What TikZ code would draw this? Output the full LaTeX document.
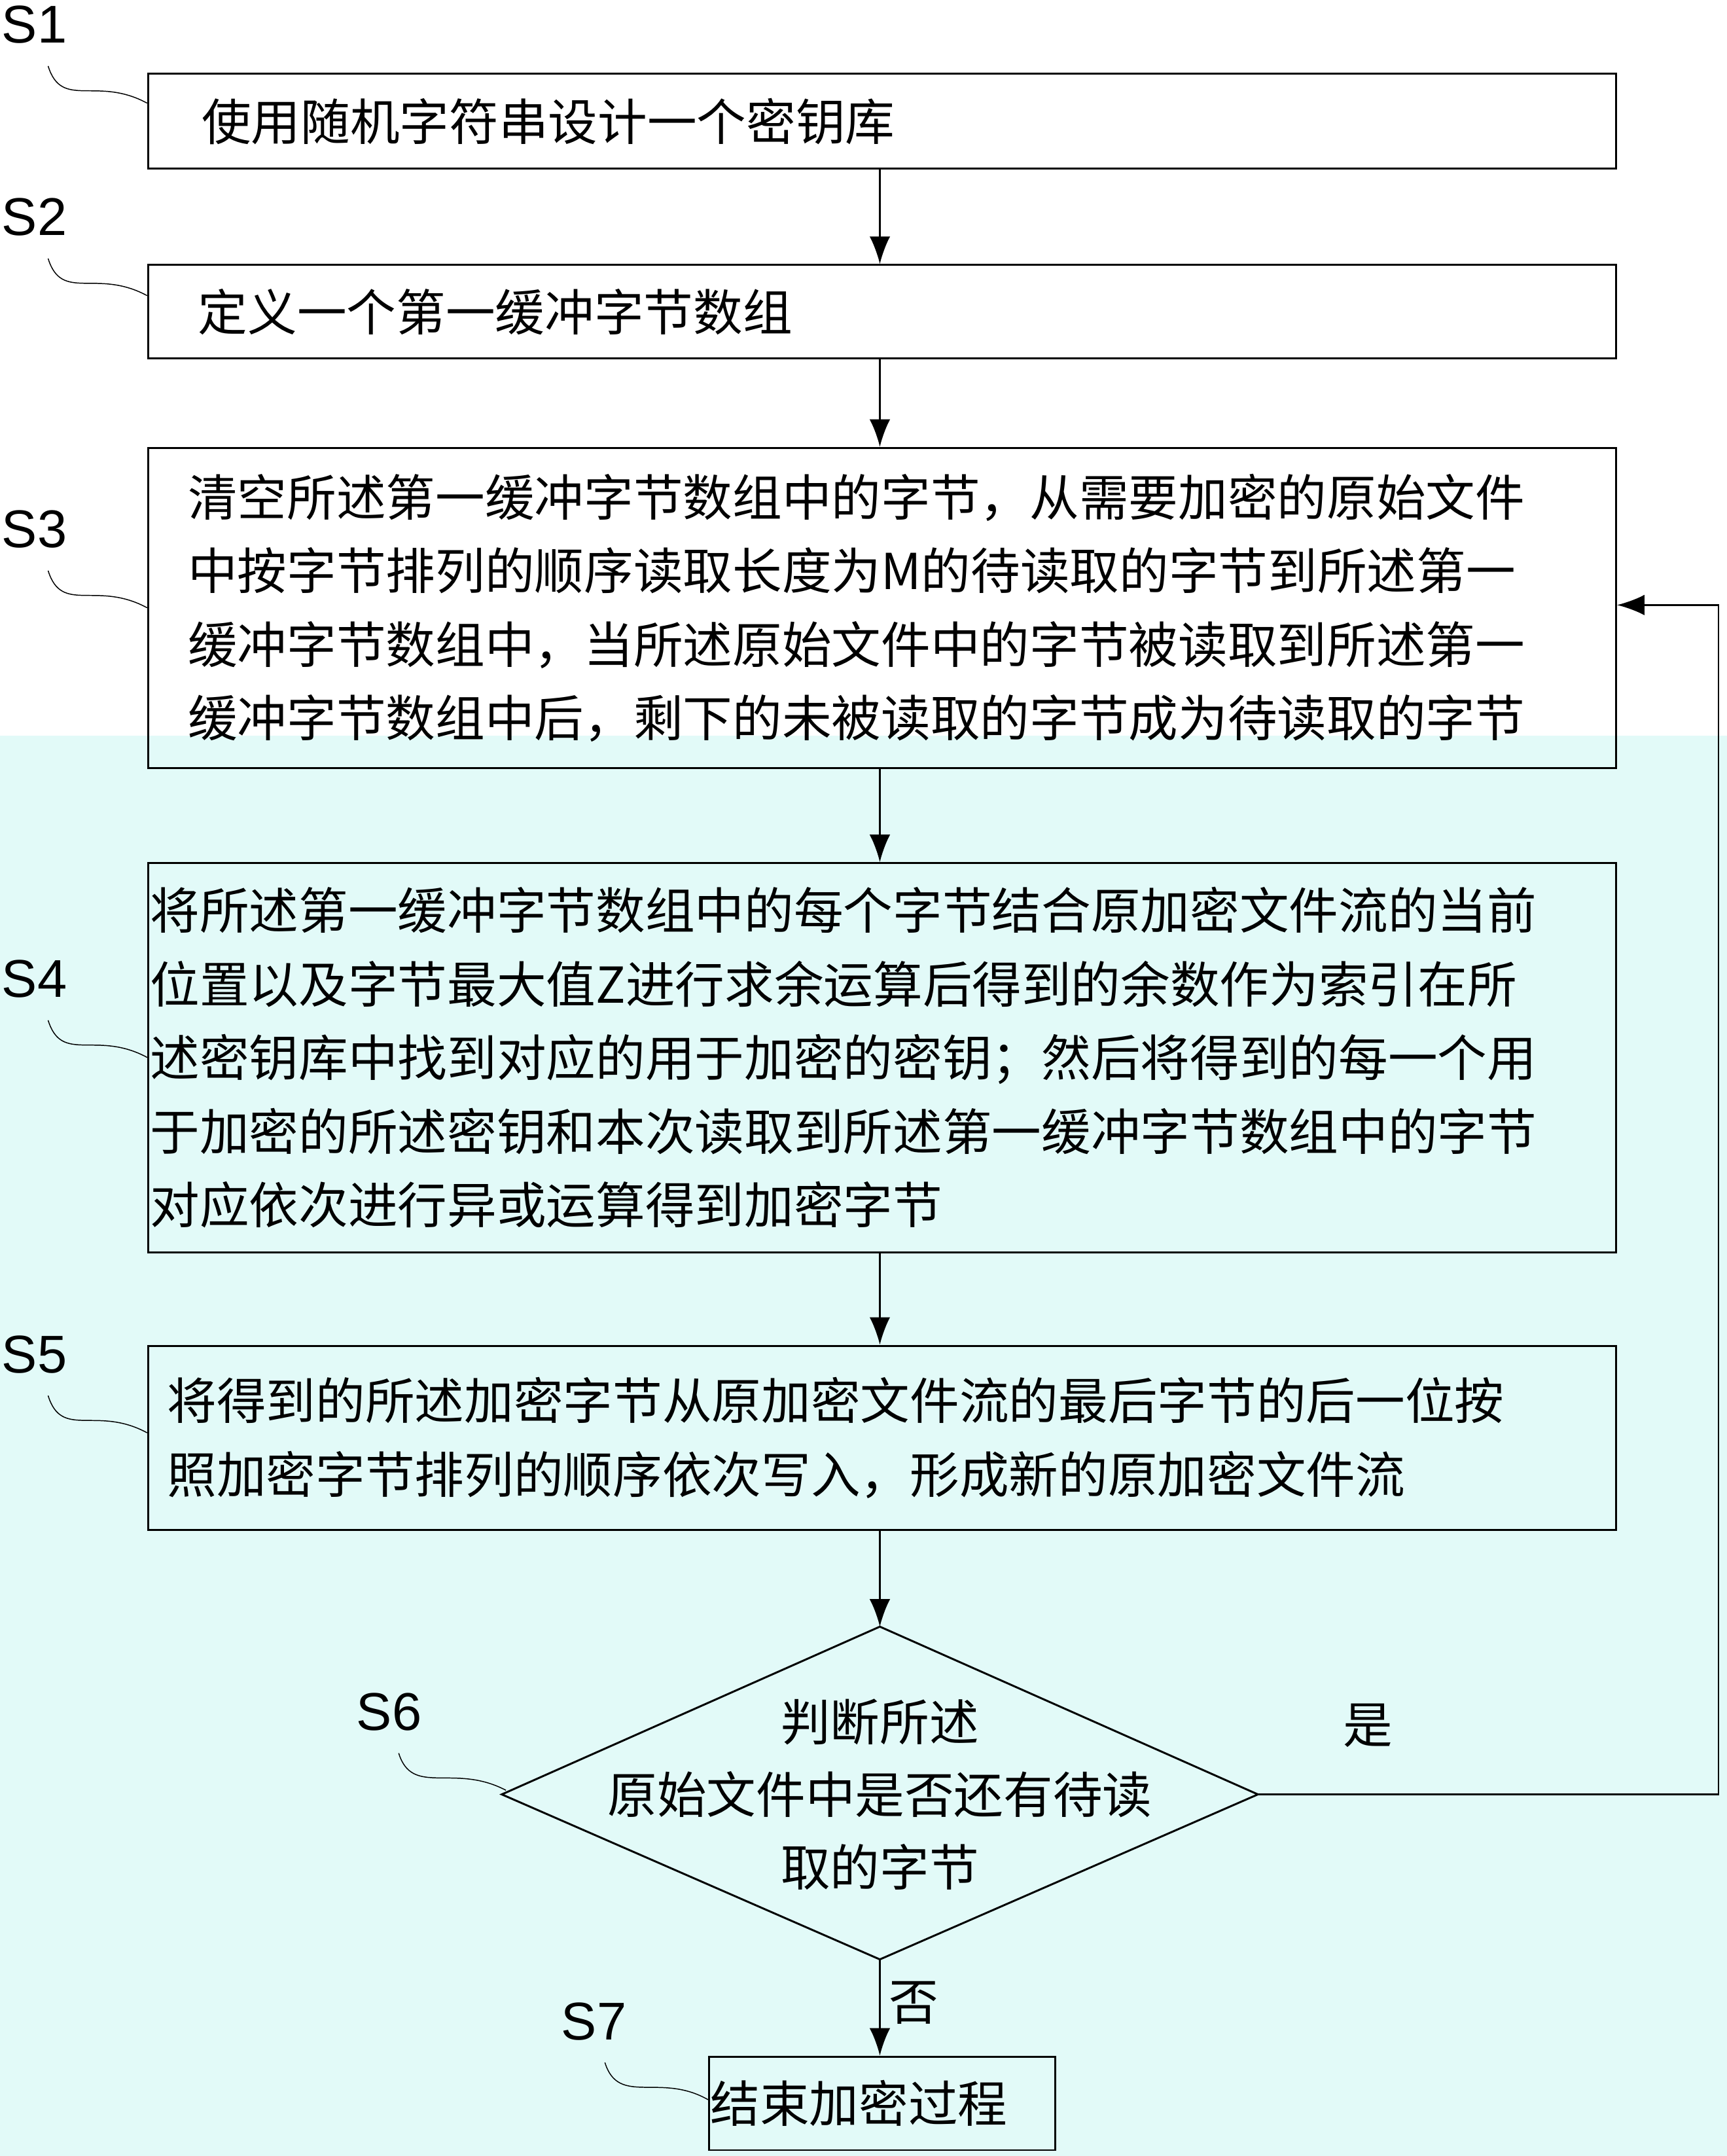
\documentclass[tikz,border=0pt]{standalone}
\usepackage{fontspec}
\setmainfont{Liberation Sans}
\newfontfamily\cjk{Noto Sans CJK SC}
\usetikzlibrary{arrows.meta}
\definecolor{bgcyan}{RGB}{226,250,248}
\tikzset{
  stepbox/.style={draw, thick, anchor=north west, align=left, inner sep=0pt,
    font=\cjk\fontsize{20.5}{30.5}\selectfont},
  steplab/.style={font=\fontsize{22}{26}\selectfont},
  wave/.style={thin},
  flow/.style={thick, -{Latex[length=4mm,width=3mm]}}
}
\begin{document}
\begin{tikzpicture}[x=0.02cm, y=-0.02cm]

        %Background
        \useasboundingbox (0,0) rectangle (1256,1568);
        \fill [white] (0,0) rectangle (1256,535);
        \fill [bgcyan] (0,535) rectangle (1256,1568);

        %Boxes
        \node (b1) [stepbox, minimum width=21.36cm, minimum height=1.38cm, text width=20.8cm] at (107,53)
          {\hspace{0.5cm}使用随机字符串设计一个密钥库};
        \node (b2) [stepbox, minimum width=21.36cm, minimum height=1.36cm, text width=20.8cm] at (107,192)
          {\hspace{0.45cm}定义一个第一缓冲字节数组};
        \node (b3) [stepbox, minimum width=21.36cm, minimum height=4.66cm, text width=20.8cm] at (107,325)
          {\hspace{0.3cm}清空所述第一缓冲字节数组中的字节，从需要加密的原始文件\\
           \hspace{0.3cm}中按字节排列的顺序读取长度为M的待读取的字节到所述第一\\
           \hspace{0.3cm}缓冲字节数组中，当所述原始文件中的字节被读取到所述第一\\
           \hspace{0.3cm}缓冲字节数组中后，剩下的未被读取的字节成为待读取的字节};
        \node (b4) [stepbox, minimum width=21.36cm, minimum height=5.66cm, text width=21.3cm] at (107,627)
          {将所述第一缓冲字节数组中的每个字节结合原加密文件流的当前\\
           位置以及字节最大值Z进行求余运算后得到的余数作为索引在所\\
           述密钥库中找到对应的用于加密的密钥；然后将得到的每一个用\\
           于加密的所述密钥和本次读取到所述第一缓冲字节数组中的字节\\
           对应依次进行异或运算得到加密字节};
        \node (b5) [stepbox, minimum width=21.36cm, minimum height=2.68cm, text width=21.2cm] at (107,978)
          {\hspace{0.2cm}将得到的所述加密字节从原加密文件流的最后字节的后一位按\\
           \hspace{0.2cm}照加密字节排列的顺序依次写入，形成新的原加密文件流};
        \node (b7) [stepbox, minimum width=5.04cm, minimum height=1.36cm, text width=5cm] at (515,1495)
          {结束加密过程};

        %Decision
        \coordinate (d6t) at (640,1183);
        \coordinate (d6b) at (640,1425);
        \coordinate (d6l) at (365,1305);
        \coordinate (d6r) at (915,1305);
        \draw [thick] (d6t) -- (d6r) -- (d6b) -- (d6l) -- cycle;
        \node (t6) [align=center, font=\cjk\fontsize{20.5}{30}\selectfont] at (640,1305)
          {判断所述\\原始文件中是否还有待读\\取的字节};

        %Arrows
        \draw [flow] (b1.south -| 640,0) -- (b2.north -| 640,0);
        \draw [flow] (b2.south -| 640,0) -- (b3.north -| 640,0);
        \draw [flow] (b3.south -| 640,0) -- (b4.north -| 640,0);
        \draw [flow] (b4.south -| 640,0) -- (b5.north -| 640,0);
        \draw [flow] (b5.south -| 640,0) -- (d6t);
        \draw [flow] (d6b) -- (b7.north -| 640,0)
          node [pos=0.45, right, font=\cjk\fontsize{20.5}{28}\selectfont] {否};
        \draw [flow] (d6r) -- (1250,1305) -- (1250,440) -- (b3.east |- 0,440);
        \node (yes) [font=\cjk\fontsize{20.5}{28}\selectfont] at (995,1255) {是};

        %Step labels
        \node (l1) [steplab] at (25,18) {S1};
        \node (l2) [steplab] at (25,158) {S2};
        \node (l3) [steplab] at (25,385) {S3};
        \node (l4) [steplab] at (25,712) {S4};
        \node (l5) [steplab] at (25,985) {S5};
        \node (l6) [steplab] at (283,1245) {S6};
        \node (l7) [steplab] at (432,1470) {S7};
        \draw [wave] (35,48) .. controls (45,80) and (70,55) .. (107,75);
        \draw [wave] (35,188) .. controls (45,220) and (70,195) .. (107,215);
        \draw [wave] (35,415) .. controls (45,447) and (70,422) .. (107,442);
        \draw [wave] (35,742) .. controls (45,774) and (70,749) .. (107,769);
        \draw [wave] (35,1015) .. controls (45,1047) and (70,1022) .. (107,1042);
        \draw [wave] (290,1275) .. controls (300,1307) and (330,1282) .. (368,1302);
        \draw [wave] (440,1500) .. controls (450,1532) and (480,1507) .. (515,1527);

      \end{tikzpicture}
\end{document}
